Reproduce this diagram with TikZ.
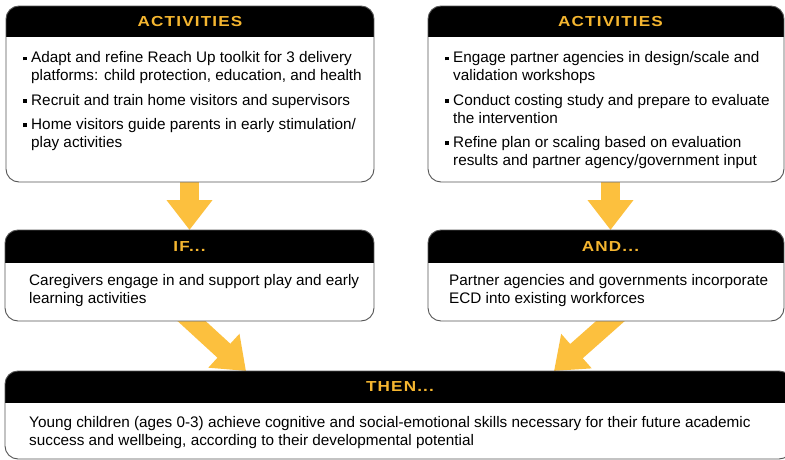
\documentclass[tikz,border=0pt]{standalone}
\usepackage{fontspec}
\setmainfont{Liberation Sans}
\newfontfamily\hdrfont[LetterSpace=8,FakeStretch=1.18]{Liberation Sans}
\usetikzlibrary{arrows.meta,backgrounds,calc}
\definecolor{gold}{RGB}{245,182,48}
\definecolor{arrowgold}{RGB}{252,192,62}
\definecolor{frameline}{RGB}{85,85,85}
\newcommand\bul{\leavevmode\llap{\rule[2.5pt]{3.9pt}{3.9pt}\hspace{4.6pt}}}
\newcommand\hdrbox[2]{%
  \fill[white, rounded corners=13pt] (#1.north west) rectangle (#1.south east);
  \begin{scope}
    \clip[rounded corners=13pt] (#1.north west) rectangle (#1.south east);
    \fill[black] (#1.north west) rectangle ([yshift=-#2]#1.north east);
  \end{scope}
  \draw[frameline, line width=0.9pt, rounded corners=13pt] (#1.north west) rectangle (#1.south east);}
\tikzset{
  frame/.style={rectangle, inner sep=0pt, outer sep=0pt, draw=none, anchor=north west},
  hdr/.style={font=\hdrfont\bfseries\fontsize{14.5}{16}\selectfont, text=gold, inner sep=0pt},
  body/.style={anchor=base west, inner sep=0pt, font=\fontsize{15.3}{18}\selectfont},
  flow/.style={draw=arrowgold, line width=19pt, -{Triangle[width=44pt,length=30pt]}},
}
\begin{document}
\begin{tikzpicture}[x=1pt,y=-1pt]
\useasboundingbox (0,0) rectangle (785,460);
\clip (0,0) rectangle (785,460);
% box frames (for anchors)
\node[frame, minimum width=368pt, minimum height=176pt] (act1) at (6,6) {};
\node[frame, minimum width=356pt, minimum height=176pt] (act2) at (428,6) {};
\node[frame, minimum width=369pt, minimum height=91pt] (ifb) at (5,230) {};
\node[frame, minimum width=356pt, minimum height=91pt] (andb) at (428,230) {};
\node[frame, minimum width=787pt, minimum height=88pt] (thn) at (5,371) {};
\hdrbox{act1}{31pt}
\hdrbox{act2}{31pt}
\hdrbox{ifb}{33pt}
\hdrbox{andb}{33pt}
\hdrbox{thn}{32pt}
% header labels
\node[hdr] (act1lbl) at (190,21.5) {ACTIVITIES};
\node[hdr] (act2lbl) at (610.5,21.5) {ACTIVITIES};
\node[hdr] (iflbl) at (189.5,246.5) {IF...};
\node[hdr] (andlbl) at (610.5,246.5) {AND...};
\node[hdr] (thenlbl) at (400,387) {THEN...};
% body texts
\node[body] (act1txt) at (31,63) {\parbox[t]{360pt}{\setlength\parskip{6.3pt}%
\bul Adapt and refine Reach Up toolkit for 3 delivery\\platforms: child protection, education, and health\par
\bul Recruit and train home visitors and supervisors\par
\bul Home visitors guide parents in early stimulation/\\play activities}};
\node[body] (act2txt) at (453,63) {\parbox[t]{360pt}{\setlength\parskip{6.3pt}%
\bul Engage partner agencies in design/scale and\\validation workshops\par
\bul Conduct costing study and prepare to evaluate\\the intervention\par
\bul Refine plan or scaling based on evaluation\\results and partner agency/government input}};
\node[body] (iftxt) at (29,285) {\parbox[t]{360pt}{Caregivers engage in and support play and early\\learning activities}};
\node[body] (andtxt) at (449,285) {\parbox[t]{360pt}{Partner agencies and governments incorporate\\ECD into existing workforces}};
\node[body] (thentxt) at (29,427) {\parbox[t]{760pt}{Young children (ages 0-3) achieve cognitive and social-emotional skills necessary for their future academic\\success and wellbeing, according to their developmental potential}};
% connectors
\coordinate (s1) at (ifb.north |- act1.south);
\coordinate (s2) at (andlbl |- act2.south);
\coordinate (e2) at (andlbl |- andb.north);
\coordinate (tipL) at ([xshift=241pt]thn.north west);
\coordinate (tipR) at ([xshift=549pt]thn.north west);
\coordinate (s3) at ([xshift=2pt]ifb.south);
\coordinate (s4) at ([xshift=0pt]andb.south -| andlbl);
\begin{scope}[on background layer]
\fill[white] (0,0) rectangle (785,460);
\draw[flow] ([yshift=10pt]s1) -- (ifb.north);
\draw[flow] ([yshift=10pt]s2) -- (e2);
\draw[flow] ($(s3)!-0.3!(tipL)$) -- (tipL);
\draw[flow] ($(s4)!-0.3!(tipR)$) -- (tipR);
\end{scope}
\end{tikzpicture}
\end{document}
